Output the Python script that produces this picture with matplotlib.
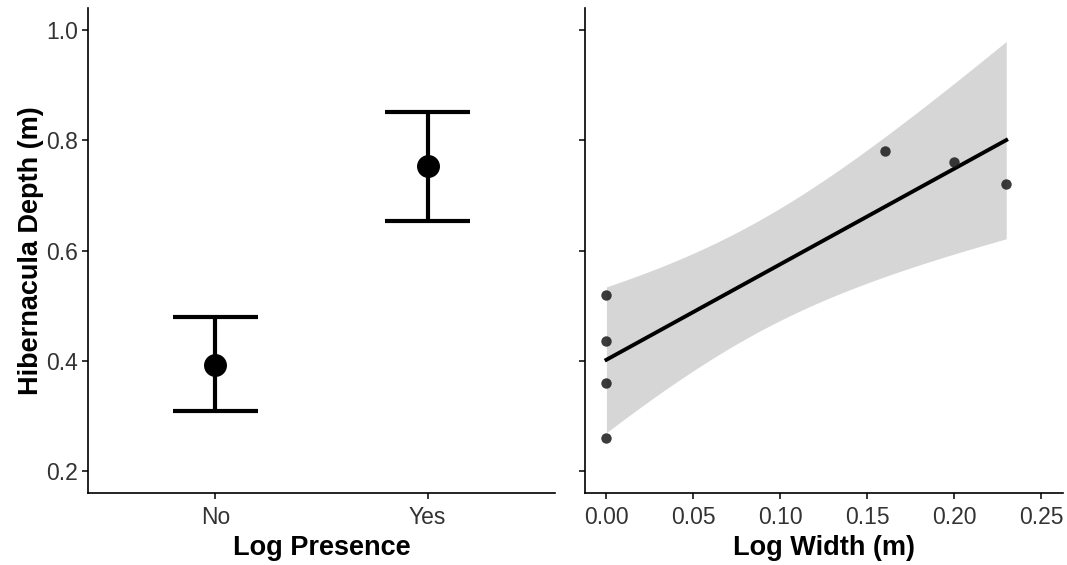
import matplotlib
matplotlib.use('Agg')
import matplotlib.pyplot as plt
import numpy as np

plt.rcParams['font.family'] = ['Liberation Sans', 'DejaVu Sans']

# group means and error bar limits
groups = ['No', 'Yes']
depth_mean = [0.393, 0.753]
depth_low = [0.308, 0.654]
depth_high = [0.479, 0.852]

# individual hibernacula
log_width = np.array([0.0, 0.0, 0.0, 0.0, 0.16, 0.20, 0.23])
depth = np.array([0.52, 0.435, 0.36, 0.26, 0.78, 0.76, 0.72])

# linear fit with 95% confidence band
n = len(log_width)
slope, intercept = np.polyfit(log_width, depth, 1)
resid = depth - (intercept + slope * log_width)
s = np.sqrt(np.sum(resid ** 2) / (n - 2))
t_crit = 2.5706  # t(0.975, df=5)
xs = np.linspace(log_width.min(), log_width.max(), 100)
fit = intercept + slope * xs
sxx = np.sum((log_width - log_width.mean()) ** 2)
se = s * np.sqrt(1 / n + (xs - log_width.mean()) ** 2 / sxx)

fig = plt.figure(figsize=(10.67, 5.65), dpi=100)
ax1 = fig.add_axes([0.0825, 0.1274, 0.4375, 0.8584])
ax2 = fig.add_axes([0.548, 0.1274, 0.4480, 0.8584])

pos = np.arange(1, len(groups) + 1)
for p, m, lo, hi in zip(pos, depth_mean, depth_low, depth_high):
    ax1.plot([p, p], [lo, hi], color='black', lw=3, solid_capstyle='butt', zorder=2)
    ax1.plot([p - 0.2, p + 0.2], [lo, lo], color='black', lw=3, solid_capstyle='butt', zorder=2)
    ax1.plot([p - 0.2, p + 0.2], [hi, hi], color='black', lw=3, solid_capstyle='butt', zorder=2)
ax1.plot(pos, depth_mean, 'o', color='black', ms=15.5, zorder=3)
ax1.set_xlim(0.4, 2.6)
ax1.set_xticks(pos)
ax1.set_xticklabels(groups)
ax1.set_ylabel('Hibernacula Depth (m)', fontsize=19.5, fontweight='bold', labelpad=2)
ax1.set_xlabel('Log Presence', fontsize=19.5, fontweight='bold', labelpad=5)

ax2.fill_between(xs, fit - t_crit * se, fit + t_crit * se, color='#d6d6d6', lw=0, zorder=1)
ax2.plot(xs, fit, color='black', lw=2.8, zorder=2)
ax2.plot(log_width, depth, 'o', color='#1a1a1a', ms=7.5, alpha=0.85, mec='none', zorder=3)
ax2.set_xlim(-0.0125, 0.2625)
ax2.set_xticks([0.0, 0.05, 0.10, 0.15, 0.20, 0.25])
ax2.set_xticklabels(['0.00', '0.05', '0.10', '0.15', '0.20', '0.25'])
ax2.set_xlabel('Log Width (m)', fontsize=19.5, fontweight='bold', labelpad=5)
ax2.set_yticklabels([])

for ax in (ax1, ax2):
    ax.set_ylim(0.16, 1.04)
    ax.set_yticks([0.2, 0.4, 0.6, 0.8, 1.0])
    for side in ('top', 'right'):
        ax.spines[side].set_visible(False)
    for side in ('left', 'bottom'):
        ax.spines[side].set_linewidth(1.2)
    ax.tick_params(length=4, width=1.1, labelsize=16.5, labelcolor='#333333', pad=3)
    ax.tick_params(axis='x', pad=5)
ax1.set_yticklabels(['0.2', '0.4', '0.6', '0.8', '1.0'])

fig.savefig('out.png', dpi=100)
